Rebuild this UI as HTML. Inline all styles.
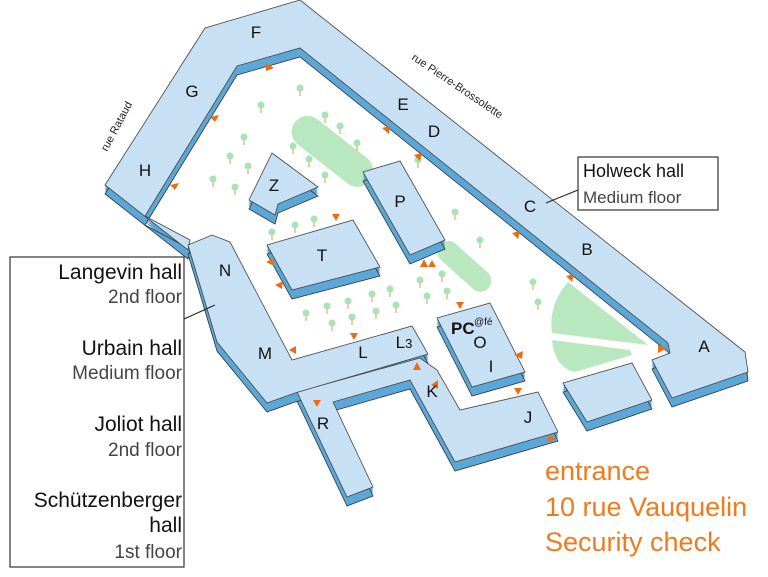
<!DOCTYPE html>
<html><head><meta charset="utf-8"><style>
html,body{margin:0;padding:0;background:#fff;width:768px;height:577px;overflow:hidden}
svg{display:block}
text{font-family:"Liberation Sans","DejaVu Sans",sans-serif}
</style></head><body>
<svg width="768" height="577" viewBox="0 0 768 577" xmlns="http://www.w3.org/2000/svg">
<defs>
<polygon id="ring" points="105,185 205,28 300,0 745,352 748,372 672,398 652,360 670,353 668,343 300,48 237,66 145,216 190,240 188,250"/>
<polygon id="rk" points="297,392 420,358 437,370 460,410 538,392 558,432 455,462 410,380 333,402 373,487 347,497"/>
<polygon id="nml" points="188,245 212,235 230,242 292,360 412,326 428,354 295,393 267,403 217,342"/>
<polygon id="t" points="267,245 353,220 380,267 292,290"/>
<polygon id="z" points="272,153 318,187 278,204 275,215 249,200"/>
<polygon id="p" points="363,172 400,161 445,240 410,255"/>
<polygon id="o" points="437,318 490,303 525,372 472,387"/>
<polygon id="q" points="563,383 632,363 652,400 587,422"/>
<g id="blds">
<use href="#ring"/><use href="#rk"/><use href="#nml"/><use href="#t"/><use href="#z"/><use href="#p"/><use href="#o"/><use href="#q"/>
</g>
<g id="tree"><line x1="0" y1="2" x2="0" y2="8" stroke="#f0a070" stroke-width="1.2"/><circle cx="0" cy="0" r="3.5" fill="#a8e3b4"/></g>
</defs>
<!-- parks -->
<g fill="#b9e7c0">
<rect x="285" y="135" width="95" height="32" rx="16" transform="rotate(38 332 151)"/>
<rect x="432" y="255" width="65" height="22" rx="11" transform="rotate(42 464 266)"/>
<path d="M568,282 Q548,305 552,333 L648,345 Z"/>
<path d="M552,340 Q555,368 575,372 L632,355 L630,350 Z"/>
</g>
<!-- trees -->
<g>
<use href="#tree" x="300" y="88"/><use href="#tree" x="261" y="105"/><use href="#tree" x="244" y="137"/><use href="#tree" x="325" y="115"/><use href="#tree" x="340" y="126"/><use href="#tree" x="357" y="143"/><use href="#tree" x="293" y="146"/><use href="#tree" x="309" y="159"/><use href="#tree" x="230" y="156"/><use href="#tree" x="248" y="166"/><use href="#tree" x="213" y="179"/><use href="#tree" x="235" y="187"/><use href="#tree" x="325" y="175"/>
<use href="#tree" x="272" y="232"/><use href="#tree" x="295" y="225"/><use href="#tree" x="314" y="219"/>
<use href="#tree" x="418" y="160"/><use href="#tree" x="455" y="212"/><use href="#tree" x="480" y="240"/><use href="#tree" x="533" y="282"/><use href="#tree" x="538" y="302"/>
<use href="#tree" x="420" y="280"/><use href="#tree" x="442" y="274"/><use href="#tree" x="427" y="296"/><use href="#tree" x="447" y="291"/>
<use href="#tree" x="306" y="313"/><use href="#tree" x="327" y="306"/><use href="#tree" x="348" y="301"/><use href="#tree" x="372" y="294"/><use href="#tree" x="390" y="289"/><use href="#tree" x="332" y="323"/><use href="#tree" x="352" y="317"/><use href="#tree" x="376" y="311"/><use href="#tree" x="396" y="305"/>
</g>
<!-- buildings: extrusion -->
<g fill="#5ba8d8">
<use href="#blds" y="2"/><use href="#blds" y="4"/><use href="#blds" y="6"/>
</g>
<use href="#blds" y="9" fill="#5ba8d8" stroke="#333" stroke-width="0.8"/>
<use href="#blds" fill="#c7e0f3" stroke="#444" stroke-width="0.8"/>
<!-- arrows -->
<g fill="#ee6b12">
<path d="M266,63 l8,5 l-8,3z"/><path d="M210,117 l9,-2 l-4,7z"/><path d="M382,128 l8,-2 l-1,8z"/><path d="M414,155 l8,-2 l-2,8z"/><path d="M170,185 l9,-2 l-4,7z"/>
<path d="M332,214 l8,0 l-4,7z"/><path d="M512,233 l8,-2 l-2,8z"/><path d="M566,276 l8,-2 l-2,8z"/>
<path d="M266,262 l8,-4 l0,8z"/><path d="M275,285 l8,-4 l-1,8z"/><path d="M420,267 l8,0 l-4,-8z"/><path d="M428,267 l8,0 l-4,-7z"/>
<path d="M456,302 l8,0 l-4,7z"/><path d="M350,333 l8,0 l-4,7z"/><path d="M289,350 l7,-4 l0,8z"/><path d="M413,370 l8,0 l-4,-8z"/>
<path d="M514,355 l9,-4 l-1,8z"/><path d="M431,385 l7,-5 l0,9z"/><path d="M514,388 l8,0 l-4,7z"/><path d="M313,400 l8,0 l-4,7z"/><path d="M548,435 l8,4 l-8,3z"/><path d="M658,345 l9,3 l-9,5z"/>
</g>
<!-- building labels -->
<g font-size="17" fill="#111" text-anchor="middle">
<text x="256" y="38">F</text><text x="192" y="97">G</text><text x="145" y="176">H</text><text x="403" y="110">E</text><text x="434" y="137">D</text><text x="530" y="212">C</text><text x="587" y="255">B</text><text x="704" y="352">A</text>
<text x="274" y="191">Z</text><text x="400" y="207">P</text><text x="322" y="261">T</text><text x="225" y="276">N</text><text x="265" y="359">M</text><text x="363" y="358">L</text><text x="404" y="348">L<tspan font-size="13">3</tspan></text>
<text x="432" y="397">K</text><text x="323" y="429">R</text><text x="528" y="423">J</text><text x="480" y="348">O</text><text x="491" y="372">I</text>
</g>
<text x="451" y="334" font-size="17" font-weight="bold" fill="#111">PC</text><text x="474" y="325" font-size="10" fill="#111">@fé</text>
<!-- street labels -->
<text x="0" y="0" font-size="11" fill="#222" transform="translate(107,152) rotate(-62)">rue Rataud</text>
<text x="0" y="0" font-size="11" fill="#222" transform="translate(411,59) rotate(34)">rue Pierre-Brossolette</text>
<!-- legend boxes -->
<line x1="546" y1="203" x2="578" y2="190" stroke="#222" stroke-width="1"/>
<rect x="578" y="157" width="140" height="53" fill="#fff" stroke="#333" stroke-width="1.2"/>
<text x="583" y="177" font-size="18" fill="#111">Holweck hall</text>
<text x="583" y="203" font-size="17" fill="#444">Medium floor</text>
<line x1="184" y1="319" x2="215" y2="305" stroke="#222" stroke-width="1"/>
<rect x="10" y="257" width="174" height="310" fill="#fff" stroke="#333" stroke-width="1.2"/>
<g text-anchor="end">
<text x="182" y="279" font-size="21" fill="#111">Langevin hall</text>
<text x="182" y="303" font-size="19" fill="#444">2nd floor</text>
<text x="182" y="355" font-size="21" fill="#111">Urbain hall</text>
<text x="182" y="379" font-size="19" fill="#444">Medium floor</text>
<text x="182" y="431" font-size="21" fill="#111">Joliot hall</text>
<text x="182" y="456" font-size="19" fill="#444">2nd floor</text>
<text x="182" y="507" font-size="21" fill="#111">Schützenberger</text>
<text x="182" y="532" font-size="21" fill="#111">hall</text>
<text x="182" y="558" font-size="19" fill="#444">1st floor</text>
</g>
<g font-size="27" fill="#ef7b21">
<text x="545" y="480">entrance</text>
<text x="545" y="516">10 rue Vauquelin</text>
<text x="545" y="551">Security check</text>
</g>
</svg>
</body></html>
